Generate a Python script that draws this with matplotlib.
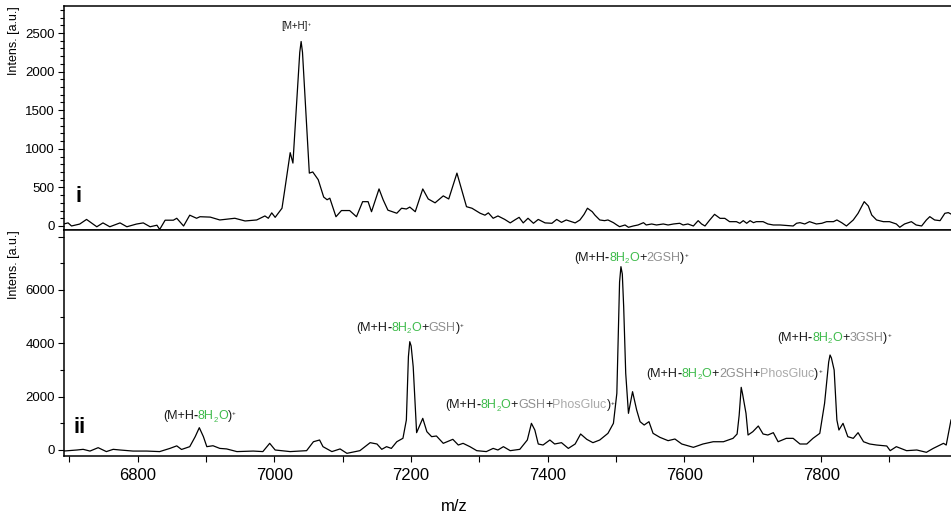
import matplotlib.pyplot as plt
from matplotlib.ticker import MultipleLocator, FuncFormatter

plt.rcParams['font.family'] = ['Liberation Sans', 'DejaVu Sans']

# spectrum i (top)
top_mz = [6691, 6698, 6703, 6715, 6725, 6740, 6749, 6759, 6774, 6784, 6798, 6808, 6818, 6828,
          6832, 6840, 6852, 6857, 6867, 6876, 6886, 6891, 6906, 6920, 6942, 6957, 6964, 6974,
          6986, 6991, 6996, 7001, 7011, 7015, 7023, 7027, 7037, 7039, 7041, 7051, 7056, 7064,
          7072, 7077, 7081, 7090, 7098, 7110, 7120, 7129, 7137, 7142, 7153, 7159, 7166, 7179,
          7186, 7193, 7198, 7206, 7217, 7225, 7235, 7247, 7255, 7267, 7274, 7281, 7289, 7301,
          7308, 7313, 7320, 7327, 7337, 7345, 7352, 7358, 7364, 7371, 7379, 7386, 7396, 7406,
          7413, 7420, 7427, 7440, 7447, 7453, 7458, 7465, 7469, 7476, 7483, 7488, 7496, 7501,
          7505, 7513, 7518, 7525, 7532, 7540, 7544, 7552, 7559, 7569, 7576, 7584, 7593, 7598,
          7605, 7613, 7620, 7625, 7630, 7637, 7644, 7652, 7659, 7666, 7676, 7681, 7686, 7691,
          7696, 7701, 7705, 7715, 7722, 7730, 7740, 7759, 7764, 7769, 7776, 7783, 7793, 7801,
          7808, 7818, 7823, 7830, 7837, 7847, 7854, 7863, 7869, 7874, 7881, 7891, 7900, 7910,
          7915, 7922, 7932, 7939, 7947, 7954, 7959, 7966, 7974, 7981, 7986, 7990]
top_int = [25, 40, 0, 25, 85, -10, 40, -10, 40, -10, 25, 40, -10, 10,
           -45, 75, 75, 100, 0, 140, 100, 120, 115, 78, 100, 65, 70, 78,
           130, 100, 170, 112, 230, 466, 950, 815, 2250, 2390, 2250, 685, 700, 600,
           375, 340, 360, 120, 200, 200, 120, 315, 315, 185, 480, 340, 205, 165,
           230, 220, 245, 185, 480, 350, 300, 390, 350, 685, 466, 250, 230, 165,
           140, 170, 100, 130, 85, 40, 80, 112, 40, 100, 35, 85, 40, 35,
           85, 47, 78, 40, 78, 150, 230, 185, 140, 78, 69, 78, 43, 13,
           -9, 13, -17, 0, 13, 43, 13, 26, 13, 26, 13, 26, 35, 13,
           26, 0, 69, 26, 0, 78, 151, 99, 99, 56, 56, 35, 69, 35,
           69, 43, 56, 56, 26, 13, 13, 0, 35, 43, 26, 56, 26, 35,
           56, 56, 78, 43, 0, 78, 164, 315, 259, 142, 78, 56, 56, 26,
           -17, 26, 56, 13, 0, 78, 121, 78, 69, 164, 173, 155]

# spectrum ii (bottom)
bot_mz = [6691, 6711, 6720, 6730, 6742, 6754, 6764, 6774, 6793, 6813, 6832, 6847, 6857, 6864,
          6876, 6884, 6890, 6896, 6901, 6910, 6920, 6930, 6945, 6969, 6983, 6993, 7001, 7023,
          7047, 7057, 7066, 7071, 7084, 7096, 7106, 7125, 7140, 7150, 7157, 7164, 7171, 7179,
          7188, 7193, 7196, 7198, 7200, 7203, 7208, 7217, 7223, 7230, 7237, 7247, 7261, 7269,
          7276, 7286, 7296, 7310, 7320, 7327, 7335, 7345, 7359, 7370, 7376, 7381, 7386, 7393,
          7403, 7410, 7420, 7430, 7440, 7448, 7457, 7466, 7476, 7488, 7496, 7501, 7505, 7507,
          7509, 7511, 7514, 7518, 7524, 7530, 7535, 7541, 7548, 7554, 7564, 7576, 7586, 7596,
          7613, 7627, 7642, 7657, 7671, 7677, 7680, 7683, 7685, 7690, 7693, 7700, 7708, 7715,
          7722, 7730, 7737, 7749, 7759, 7769, 7779, 7788, 7798, 7805, 7811, 7813, 7815, 7819,
          7823, 7826, 7832, 7839, 7847, 7854, 7862, 7871, 7881, 7896, 7901, 7910, 7925, 7940,
          7954, 7964, 7979, 7983, 7990]
bot_int = [-40, 0, 25, -40, 87, -60, 25, 0, -40, -40, -60, 60, 155, 20,
           125, 500, 837, 500, 125, 160, 60, 40, -60, -40, -60, 250, 0, -60,
           -25, 310, 375, 125, -60, 40, -125, -25, 275, 225, 25, 125, 60, 310,
           440, 1125, 3500, 4062, 3900, 3125, 650, 1187, 687, 500, 525, 250, 400, 187,
           250, 125, -25, -60, 60, 0, 125, -25, 25, 375, 1000, 750, 225, 187,
           375, 225, 275, 60, 225, 600, 400, 275, 375, 625, 1000, 2125, 6300, 6875,
           6600, 5375, 2875, 1375, 2187, 1500, 1062, 937, 1062, 625, 475, 350, 412, 225,
           100, 225, 310, 310, 437, 600, 1300, 2350, 2100, 1375, 562, 687, 900, 600,
           562, 650, 310, 437, 437, 225, 225, 437, 625, 1750, 3300, 3562, 3450, 3000,
           1125, 750, 1000, 500, 437, 650, 310, 225, 187, 150, -25, 125, -25, 0,
           -87, 60, 250, 187, 1125]

GREEN = '#3fbb4c'
GRAY = '#8f8f8f'
LIGHT = '#ababab'
BLACK = '#1a1a1a'

h2o = [('(M+H', BLACK, ''), ('-', BLACK, 'bold'), ('8H', GREEN, ''), ('2', GREEN, 'sub'),
       ('O', GREEN, '')]
close = [(')', BLACK, ''), ('+', BLACK, 'sup')]
phos = [('+', BLACK, ''), ('PhosGluc', LIGHT, '')]


def gsh(n=''):
    return [('+', BLACK, ''), (f'{n}GSH', GRAY, '')]


top_label = (7031, 2547, [('[M+H]', BLACK, ''), ('+', BLACK, 'sup')])
bottom_labels = [
    (6890, 1160, h2o + close),
    (7198, 4475, h2o + gsh() + close),
    (7374, 1570, h2o + gsh() + phos + close),
    (7522, 7100, h2o + gsh(2) + close),
    (7673, 2750, h2o + gsh(2) + phos + close),
    (7819, 4100, h2o + gsh(3) + close),
]


def peak_label(ax, x, y, parts, size):
    first = prev = base = None
    for text, color, kind in parts:
        fs = size * {'sub': 0.62, 'sup': 0.5}.get(kind, 1.0)
        weight = 'bold' if kind == 'bold' else 'normal'
        if first is None:
            t = ax.text(x, y, text, color=color, fontsize=fs, fontweight=weight,
                        ha='left', va='baseline')
            first = t
        else:
            dy = {'sub': -1.2, 'sup': 0.45 * size}.get(kind, 0)
            t = ax.annotate(text, xy=(1, 0), xycoords=(prev, base), xytext=(0, dy),
                            textcoords='offset points', color=color, fontsize=fs,
                            fontweight=weight, ha='left', va='bottom')
        prev = t
        if kind not in ('sub', 'sup'):
            base = t
    return first, prev, x


fig = plt.figure(figsize=(9.51, 5.21), dpi=100)
ax1 = fig.add_axes([64 / 951, 1 - 230 / 521, 887 / 951, 224 / 521])
ax2 = fig.add_axes([64 / 951, 1 - 456 / 521, 887 / 951, 226 / 521])

ax1.plot(top_mz, top_int, color='black', lw=0.9)
ax2.plot(bot_mz, bot_int, color='black', lw=0.9)

for ax in (ax1, ax2):
    ax.set_xlim(6692, 7990)
    ax.spines['right'].set_visible(False)
    for s in ('left', 'top', 'bottom'):
        ax.spines[s].set_linewidth(1.1)
    ax.xaxis.set_major_locator(MultipleLocator(200))
    ax.xaxis.set_minor_locator(MultipleLocator(100))
    ax.tick_params(which='both', direction='out', width=0.8, labelsize=9.5, pad=2.5)
    ax.tick_params(which='major', length=4)
    ax.tick_params(which='minor', length=3)
    ax.set_ylabel('Intens. [a.u.]', fontsize=9, loc='top')
    ax.yaxis.set_label_coords(-0.05, 1.0)

ax1.set_ylim(-52, 2850)
ax1.yaxis.set_major_locator(MultipleLocator(500))
ax1.yaxis.set_minor_locator(MultipleLocator(100))
ax1.tick_params(axis='x', which='both', bottom=False, labelbottom=False)

ax2.set_ylim(-225, 8250)
ax2.yaxis.set_major_locator(MultipleLocator(2000))
ax2.yaxis.set_minor_locator(MultipleLocator(1000))
ax2.yaxis.set_major_formatter(FuncFormatter(lambda v, p: '' if v > 7000 else f'{v:.0f}'))
ax2.tick_params(axis='x', which='both', labelsize=12, length=4.5, pad=4)
ax2.set_xlabel('m/z', fontsize=12)
ax2.xaxis.set_label_coords(0.44, -0.19)

ax1.text(0.016, 0.15, 'i', transform=ax1.transAxes, fontsize=16, fontweight='bold',
         ha='center', va='center')
ax2.text(0.0175, 0.125, 'ii', transform=ax2.transAxes, fontsize=16, fontweight='bold',
         ha='center', va='center')

chains = [(ax1, *peak_label(ax1, *top_label, size=7))]
for x, y, parts in bottom_labels:
    chains.append((ax2, *peak_label(ax2, x, y, parts, size=9)))

# centre each multi-part label over its peak
fig.canvas.draw()
r = fig.canvas.get_renderer()
for ax, first, last, cx in chains:
    x0 = first.get_window_extent(r).x0
    x1 = last.get_window_extent(r).x1
    cdisp = ax.transData.transform((cx, 0))[0]
    newx = ax.transData.inverted().transform((cdisp - (x1 - x0) / 2, 0))[0]
    first.set_x(newx)

fig.savefig('out.png', dpi=100)
